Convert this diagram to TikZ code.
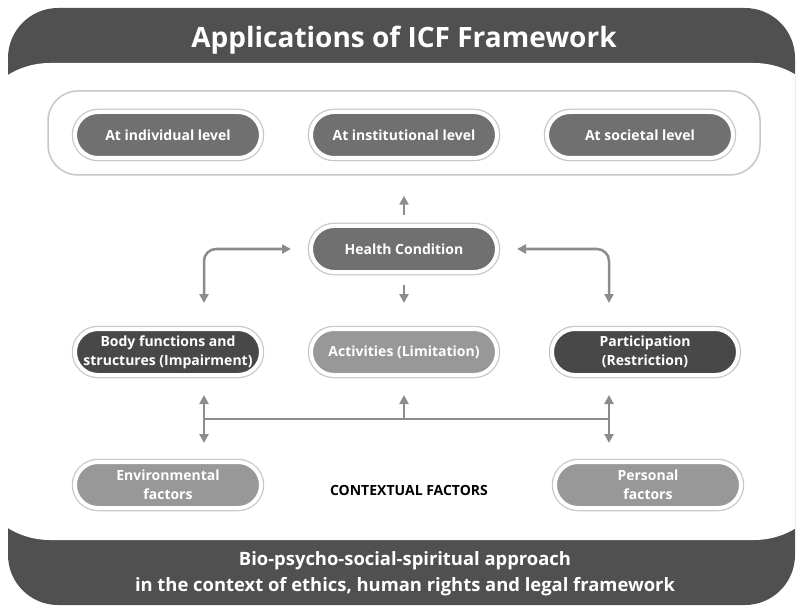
\documentclass[tikz,border=0pt]{standalone}
\usepackage{fontspec}
\setmainfont{Open Sans}
\usepackage{tikz}
\usetikzlibrary{arrows.meta,positioning,calc}
\definecolor{clrBand}{RGB}{80,80,80}
\definecolor{clrDk}{RGB}{72,72,72}
\definecolor{clrMd}{RGB}{112,112,112}
\definecolor{clrLt}{RGB}{152,152,152}
\definecolor{clrArr}{RGB}{140,140,140}
\tikzset{
  pill/.style={rectangle,rounded corners=23pt,minimum width=186pt,
    minimum height=46pt,align=center,text=white,draw=white,line width=4pt,
    preaction={draw=black!22,line width=6.5pt},inner sep=2pt,
    font=\fontsize{14}{19}\selectfont\bfseries},
  pillDk/.style={pill,fill=clrDk},
  pillMd/.style={pill,fill=clrMd},
  pillLt/.style={pill,fill=clrLt},
  panel/.style={rectangle,rounded corners=30pt,draw=black!22,line width=1.5pt,
    fill=white,minimum width=712pt,minimum height=84pt},
  band/.style={text=white,align=center,font=\bfseries},
  link/.style={draw=clrArr,line width=2.5pt},
  arr/.style={link,-{Triangle[length=9pt,width=9pt]}},
  biarr/.style={link,{Triangle[length=9pt,width=9pt]}-{Triangle[length=9pt,width=9pt]}}
}
\begin{document}
\begin{tikzpicture}[x=1pt,y=-1pt]
  \useasboundingbox (0,0) rectangle (796,607);

  % frame: dark band with white swoosh
  \fill[clrBand,rounded corners=50pt] (8,8) rectangle (795,605);
  \begin{scope}
    \clip[rounded corners=50pt] (8,8) rectangle (795,605);
    \fill[white,rounded corners=80pt] (-30,63) rectangle (834,540);
  \end{scope}

  \node[band,font=\fontsize{28}{34}\selectfont\bfseries] (title) at (404,40)
    {Applications of ICF Framework};
  \node[band,font=\fontsize{18.4}{26}\selectfont\bfseries] (basis) at (405,574)
    {Bio-psycho-social-spiritual approach\\
     in the context of ethics, human rights and legal framework};

  \node[panel] (apps) at (404,133) {};
  \node[pillMd] (ind) at (168,135) {At individual level};
  \node[pillMd] (inst) at (404,135) {At institutional level};
  \node[pillMd] (soc) at (640,135) {At societal level};

  \node[pillMd] (hc) at (404,249) {Health Condition};
  \node[pillDk] (body) at (168,352) {Body functions and\\structures (Impairment)};
  \node[pillLt] (act) at (404,352) {Activities (Limitation)};
  \node[pillDk] (part) at (645,352) {Participation\\(Restriction)};
  \node[pillLt] (env) at (168,485) {Environmental\\factors};
  \node[pillLt] (pers) at (648,485) {Personal\\factors};
  \node[font=\fontsize{14}{17}\selectfont\bfseries] (ctx) at (409,490)
    {CONTEXTUAL FACTORS};

  \coordinate (jl) at (204,419);
  \coordinate (jm) at (404,419);
  \coordinate (jr) at (609,419);

  \draw[arr,shorten <=9pt,shorten >=20pt] (hc.north) -- (apps.south);
  \draw[arr,shorten <=11pt,shorten >=24pt] (hc.south) -- (act.north);
  \draw[biarr,rounded corners=12pt,shorten <=18pt,shorten >=24pt]
    (hc.west) -| (body.north -| jl);
  \draw[biarr,rounded corners=12pt,shorten <=18pt,shorten >=24pt]
    (hc.east) -| (part.north -| jr);

  \draw[link] (jl) -- (jr);
  \draw[arr,shorten >=18pt] (jl) -- (jl |- body.south);
  \draw[arr,shorten >=17pt] (jl) -- (jl |- env.north);
  \draw[arr,shorten >=18pt] (jm) -- (act.south);
  \draw[arr,shorten >=18pt] (jr) -- (jr |- part.south);
  \draw[arr,shorten >=17pt] (jr) -- (jr |- pers.north);
\end{tikzpicture}
\end{document}
